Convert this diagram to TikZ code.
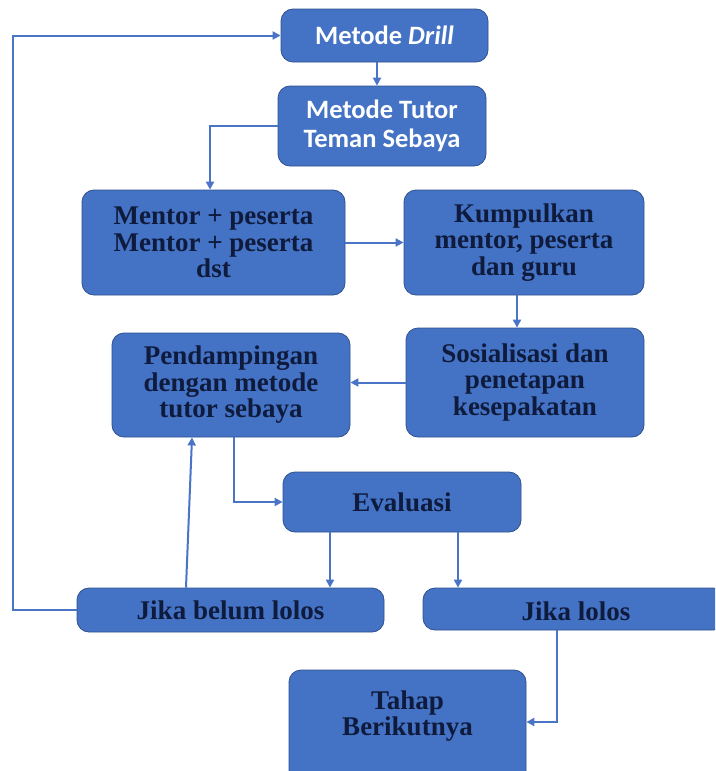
\documentclass[tikz,border=0pt]{standalone}
\usepackage{fontspec}
\setmainfont{Liberation Serif}
\newfontfamily\carlito{Carlito}
\usetikzlibrary{arrows.meta}
\definecolor{boxblue}{HTML}{4472C4}
\definecolor{boxedge}{HTML}{2F528F}
\definecolor{linkblue}{HTML}{4A74C6}
\definecolor{darktext}{HTML}{0F1B3D}
\tikzset{
  box/.style={rectangle, rounded corners=12pt, fill=boxblue, draw=boxedge, line width=0.8pt, inner sep=0pt, align=center},
  sanstext/.style={text=white, font=\carlito\bfseries\fontsize{26.5}{28.5}\selectfont},
  seriftext/.style={text=darktext, font=\bfseries\fontsize{27}{26.5}\selectfont},
  link/.style={draw=linkblue, line width=2pt, -{Triangle[length=8pt,width=8pt]}},
}
\begin{document}
\begin{tikzpicture}[x=1pt,y=-1pt]
\clip (0,0) rectangle (715,771);
\fill[white] (0,0) rectangle (715,771);
\node[box, sanstext, minimum width=207pt, minimum height=53pt] (drill) at (384.5,35.5) {Metode \textit{Drill}};
\node[box, sanstext, minimum width=208pt, minimum height=80pt] (tutor) at (382,126) {Metode Tutor\\Teman Sebaya};
\node[box, seriftext, minimum width=263pt, minimum height=105pt] (mentor) at (213.5,242.5) {Mentor + peserta\\Mentor + peserta\\dst};
\node[box, seriftext, minimum width=240pt, minimum height=105pt] (kumpul) at (524,242.5) {Kumpulkan\\mentor, peserta\\dan guru};
\node[box, seriftext, minimum width=238pt, minimum height=109pt] (sosial) at (525,382.5) {Sosialisasi dan\\penetapan\\kesepakatan};
\node[box, seriftext, minimum width=238pt, minimum height=104pt] (pendamp) at (231,385) {Pendampingan\\dengan metode\\tutor sebaya};
\node[box, seriftext, minimum width=238pt, minimum height=60pt] (eval) at (402,502) {Evaluasi};
\node[box, seriftext, minimum width=307pt, minimum height=44pt] (belum) at (230.5,610) {Jika belum lolos};
\node[box, minimum width=302pt, minimum height=42pt] (lolos) at (574,609) {};
\node[seriftext] (lolost) at (576,611) {Jika lolos};
\node[box, minimum width=237pt, minimum height=120pt] (tahap) at (407.5,730) {};
\node[seriftext, align=center] (tahapt) at (407.5,716) {Tahap\\Berikutnya};

\draw[link] (belum.west) -- ++(-64pt,0) |- (drill.west);
\draw[link] ([xshift=-7.5pt]drill.south) -- ([xshift=-5pt]tutor.north);
\draw[link] (tutor.west) -| ([xshift=-3.5pt]mentor.north);
\draw[link] (mentor.east) -- (kumpul.west);
\draw[link] ([xshift=-7pt]kumpul.south) -- ([xshift=-8pt]sosial.north);
\draw[link] (sosial.west) -- (sosial.west -| pendamp.east);
\draw[link] ([xshift=3pt]pendamp.south) |- (eval.west);
\draw[link] ([xshift=-72pt]eval.south) -- ([xshift=-72pt]eval.south |- belum.north);
\draw[link] ([xshift=56pt]eval.south) -- ([xshift=56pt]eval.south |- lolos.north);
\draw[link] ([xshift=-44.5pt]belum.north) -- ([xshift=-39pt]pendamp.south);
\draw[link] ([xshift=-17pt]lolos.south) |- ([yshift=8pt]tahap.east);
\end{tikzpicture}
\end{document}
